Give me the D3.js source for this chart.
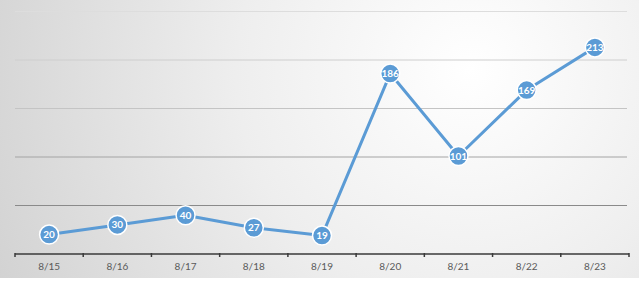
<!DOCTYPE html>
<html>
<head>
<meta charset="utf-8">
<script src="https://cdn.jsdelivr.net/npm/d3@7"></script>
<style>
  body { margin: 0; background: #fff; }
  svg { display: block; }
</style>
</head>
<body>
<svg width="644" height="282"></svg>
<script>
const dates = ["8/15", "8/16", "8/17", "8/18", "8/19", "8/20", "8/21", "8/22", "8/23"];
const counts = [20, 30, 40, 27, 19, 186, 101, 169, 213];
const yTicks = [0, 50, 100, 150, 200, 250];
const gridColors = ["#8a8a8a", "#a4a4a4", "#c4c4c4", "#cecece", "#dddddd"];

const svg = d3.select("svg");
const plotLeft = 15, plotRight = 629, plotTop = 11.5, plotBottom = 254;

// background gradient
const defs = svg.append("defs");
const grad = defs.append("radialGradient")
  .attr("id", "bg")
  .attr("gradientUnits", "userSpaceOnUse")
  .attr("cx", 470).attr("cy", 70).attr("r", 520);
grad.append("stop").attr("offset", "0%").attr("stop-color", "#ffffff");
grad.append("stop").attr("offset", "45%").attr("stop-color", "#eeeeee");
grad.append("stop").attr("offset", "100%").attr("stop-color", "#d2d2d2");

svg.append("rect")
  .attr("x", 0).attr("y", 0)
  .attr("width", 639).attr("height", 278)
  .attr("fill", "url(#bg)");

const x = d3.scaleBand().domain(dates).range([plotLeft, plotRight]);
const y = d3.scaleLinear().domain([0, 250]).range([plotBottom, plotTop]);

// gridlines
svg.append("g")
  .selectAll("line")
  .data(yTicks.slice(1))
  .enter()
  .append("line")
  .attr("x1", plotLeft).attr("x2", plotRight - 2)
  .attr("y1", d => y(d)).attr("y2", d => y(d))
  .attr("stroke", (d, i) => gridColors[i])
  .attr("stroke-width", 1);

// x axis
const xAxis = d3.axisBottom(x)
  .tickSize(0)
  .tickPadding(9);

const axisG = svg.append("g")
  .attr("transform", `translate(0,${plotBottom})`)
  .call(xAxis);
axisG.select(".domain")
  .attr("stroke", "#3a3a3a")
  .attr("stroke-width", 1.5)
  .attr("d", `M${plotLeft},0H${plotRight}`);
axisG.selectAll(".tick text")
  .attr("fill", "#5a5a5a")
  .attr("font-family", "Lato, 'Open Sans', sans-serif")
  .attr("font-size", 10);

// band boundary ticks
const bounds = dates.map(d => x(d)).concat([plotRight]);
axisG.selectAll(".bound")
  .data(bounds)
  .enter()
  .append("line")
  .attr("class", "bound")
  .attr("x1", d => d).attr("x2", d => d)
  .attr("y1", -1).attr("y2", 3)
  .attr("stroke", "#3a3a3a")
  .attr("stroke-width", 1.5);

const cx = d => x(d) + x.bandwidth() / 2;

const line = d3.line()
  .x((d, i) => cx(dates[i]))
  .y(d => y(d));

svg.append("path")
  .datum(counts)
  .attr("fill", "none")
  .attr("stroke", "#5b9bd5")
  .attr("stroke-width", 3)
  .attr("stroke-linejoin", "round")
  .attr("d", line);

const pts = svg.append("g")
  .selectAll("g")
  .data(counts)
  .enter()
  .append("g")
  .attr("transform", (d, i) => `translate(${cx(dates[i])},${y(d)})`);

pts.append("circle")
  .attr("r", 9.5)
  .attr("fill", "#5b9bd5")
  .attr("stroke", "#ffffff")
  .attr("stroke-width", 1.5);

pts.append("text")
  .attr("text-anchor", "middle")
  .attr("dy", "0.35em")
  .attr("fill", "#ffffff")
  .attr("font-family", "Lato, 'Open Sans', sans-serif")
  .attr("font-weight", "bold")
  .attr("font-size", 10)
  .text(d => d);
</script>
</body>
</html>
